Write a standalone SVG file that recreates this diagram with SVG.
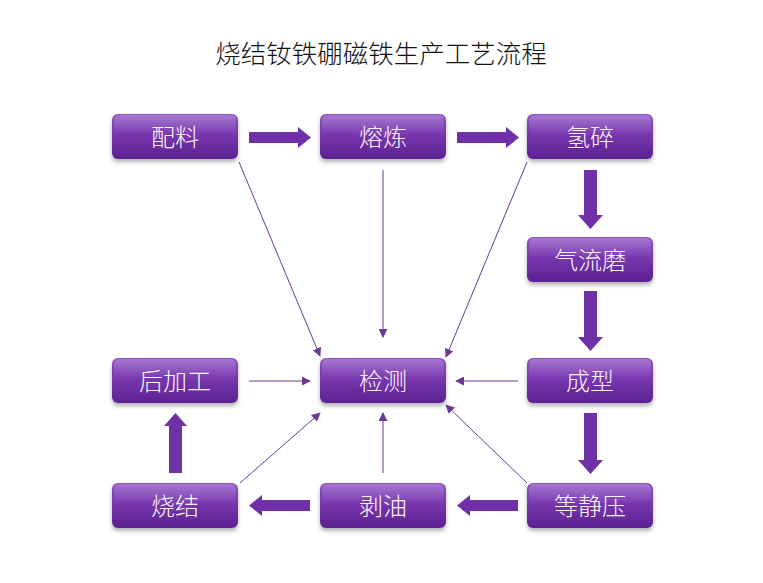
<svg xmlns="http://www.w3.org/2000/svg" width="763" height="583" viewBox="0 0 763 583">
<defs>
<linearGradient id="g" x1="0" y1="0" x2="0" y2="1">
<stop offset="0" stop-color="#8e52c4"/>
<stop offset="0.5" stop-color="#7534ac"/>
<stop offset="1" stop-color="#5c2290"/>
</linearGradient>
<linearGradient id="hg" x1="0" y1="0" x2="0" y2="1">
<stop offset="0" stop-color="#ffffff" stop-opacity="0.22"/>
<stop offset="1" stop-color="#ffffff" stop-opacity="0"/>
</linearGradient>
<filter id="sh" x="-10%" y="-10%" width="120%" height="140%">
<feDropShadow dx="0" dy="3" stdDeviation="2" flood-color="#000" flood-opacity="0.3"/>
</filter>
<marker id="ah" viewBox="0 0 10 10" refX="9" refY="5" markerWidth="9" markerHeight="9" markerUnits="userSpaceOnUse" orient="auto">
<path d="M0,0 L10,5 L0,10 z" fill="#6a3a90"/>
</marker>
</defs>
<style>
.box{fill:url(#g);filter:url(#sh)}
.hl{fill:url(#hg)}
.lbl{font-family:"Noto Sans CJK SC","Noto Sans",sans-serif;font-size:24px;font-weight:300;fill:#fff4fb;text-anchor:middle}
.thin{stroke:#6a3a90;stroke-width:1;fill:none;marker-end:url(#ah)}
.fat{fill:#7030a8}
</style>
<rect width="763" height="583" fill="#ffffff"/>
<text x="381" y="63" font-family="Noto Sans CJK SC, sans-serif" font-size="25.5" font-weight="300" fill="#111" text-anchor="middle">烧结钕铁硼磁铁生产工艺流程</text>

<g id="connectors">
<polygon class="fat" points="249,132 298,132 298,127 311,137.5 298,148 298,143 249,143"/>
<polygon class="fat" points="457,132 506,132 506,127 519,137.5 506,148 506,143 457,143"/>
<polygon class="fat" points="584,170 597,170 597,215 603,215 590.5,229 578,215 584,215"/>
<polygon class="fat" points="584,291 597,291 597,337 603,337 590.5,351 578,337 584,337"/>
<polygon class="fat" points="584,413 597,413 597,460 603,460 590.5,474 578,460 584,460"/>
<polygon class="fat" points="518,500 470,500 470,495 457,505.5 470,516 470,511 518,511"/>
<polygon class="fat" points="310,500 262,500 262,495 249,505.5 262,516 262,511 310,511"/>
<polygon class="fat" points="169,473 169,426 164,426 175.5,413 187,426 182,426 182,473"/>
<line class="thin" x1="239" y1="162" x2="320" y2="356"/>
<line class="thin" x1="383" y1="170" x2="383" y2="337"/>
<line class="thin" x1="527" y1="162" x2="446" y2="357"/>
<line class="thin" x1="249" y1="381" x2="310" y2="381"/>
<line class="thin" x1="518" y1="381" x2="456" y2="381"/>
<line class="thin" x1="240" y1="483" x2="320" y2="413"/>
<line class="thin" x1="383" y1="473" x2="383" y2="413"/>
<line class="thin" x1="527" y1="483" x2="446" y2="405"/>
</g>

<g id="n1"><rect class="box" x="112" y="114" width="126" height="45" rx="6"/><rect class="hl" x="114" y="115" width="122" height="20" rx="5"/><text class="lbl" x="175" y="146">配料</text></g>
<g id="n2"><rect class="box" x="320" y="114" width="126" height="45" rx="6"/><rect class="hl" x="322" y="115" width="122" height="20" rx="5"/><text class="lbl" x="383" y="146">熔炼</text></g>
<g id="n3"><rect class="box" x="527" y="114" width="126" height="45" rx="6"/><rect class="hl" x="529" y="115" width="122" height="20" rx="5"/><text class="lbl" x="590" y="146">氢碎</text></g>
<g id="n4"><rect class="box" x="527" y="237" width="126" height="45" rx="6"/><rect class="hl" x="529" y="238" width="122" height="20" rx="5"/><text class="lbl" x="590" y="269">气流磨</text></g>
<g id="n5"><rect class="box" x="527" y="358" width="126" height="45" rx="6"/><rect class="hl" x="529" y="359" width="122" height="20" rx="5"/><text class="lbl" x="590" y="390">成型</text></g>
<g id="n6"><rect class="box" x="320" y="358" width="126" height="45" rx="6"/><rect class="hl" x="322" y="359" width="122" height="20" rx="5"/><text class="lbl" x="383" y="390">检测</text></g>
<g id="n7"><rect class="box" x="112" y="358" width="126" height="45" rx="6"/><rect class="hl" x="114" y="359" width="122" height="20" rx="5"/><text class="lbl" x="175" y="390">后加工</text></g>
<g id="n8"><rect class="box" x="527" y="483" width="126" height="45" rx="6"/><rect class="hl" x="529" y="484" width="122" height="20" rx="5"/><text class="lbl" x="590" y="515">等静压</text></g>
<g id="n9"><rect class="box" x="320" y="483" width="126" height="45" rx="6"/><rect class="hl" x="322" y="484" width="122" height="20" rx="5"/><text class="lbl" x="383" y="515">剥油</text></g>
<g id="n10"><rect class="box" x="112" y="483" width="126" height="45" rx="6"/><rect class="hl" x="114" y="484" width="122" height="20" rx="5"/><text class="lbl" x="175" y="515">烧结</text></g>
</svg>
